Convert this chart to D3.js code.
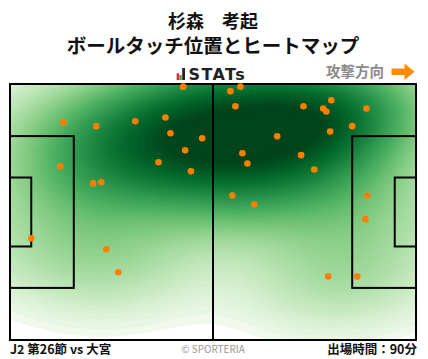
<!DOCTYPE html>
<html><head><meta charset="utf-8">
<script src="https://cdn.jsdelivr.net/npm/d3@7"></script>
<style>
body{margin:0;background:#fff;}
</style>
</head><body>
<svg id="chart" width="428" height="359" style="font-family:'Noto Sans CJK JP','Noto Sans',sans-serif"></svg>
<script>
// ---- data (pitch metres, x = attacking direction, y from top touchline) ----
const touchX = [44.8,13.8,22.3,32.4,40.2,41.5,49.7,45.3,38.4,46.8,13.0,21.5,23.6,
                57.0,59.6,58.3,75.9,83.1,81.0,81.8,92.2,88.5,82.8,69.1,60.1,61.4,75.3,78.7,
                57.5,63.2,92.4,91.9,5.5,24.9,28.0,82.3,89.8];
const touchY = [0.7,10.2,11.2,9.9,8.9,13.1,14.4,17.6,20.8,23.2,21.9,26.4,26.1,
                1.9,0.7,5.9,5.9,4.3,6.5,7.3,6.5,11.2,12.6,13.9,18.4,21.1,18.9,22.7,
                29.6,32.0,29.6,35.9,41.0,43.9,50.0,51.1,51.1];
const titleLines = ["杉森　考起", "ボールタッチ位置とヒートマップ"];
const brandLabel = "STATs";
const directionLabel = "攻撃方向";
const matchLabel = "J2 第26節 vs 大宮";
const creditLabel = "© SPORTERIA";
const minutesLabel = "出場時間：90分";
const pitchLength = 105, pitchWidth = 68;

const svg = d3.select("#chart");
const x = d3.scaleLinear().domain([0, pitchLength]).range([10, 416]);
const y = d3.scaleLinear().domain([0, pitchWidth]).range([84, 340]);

// ---- titles ----
const title = svg.append("text").attr("text-anchor", "middle").attr("font-weight", "bold").attr("fill", "#111");
title.append("tspan").attr("x", 213).attr("y", 28).attr("font-size", 18).text(titleLines[0]);
title.append("tspan").attr("x", 213).attr("y", 53).attr("font-size", 19.5).text(titleLines[1]);

// brand logo
svg.append("rect").attr("x", 176.7).attr("y", 73.3).attr("width", 2.3).attr("height", 6.7).attr("fill", "#e8262b");
svg.append("rect").attr("x", 179.4).attr("y", 75).attr("width", 2.3).attr("height", 5).attr("fill", "#3aa844");
svg.append("rect").attr("x", 182.2).attr("y", 68).attr("width", 2.8).attr("height", 12).attr("fill", "#222");
svg.append("text").attr("x", 188.5).attr("y", 80).attr("font-size", 16).attr("font-weight", "bold")
  .style("font-family", "'DejaVu Sans'").attr("letter-spacing", 1.4).attr("fill", "#222").text(brandLabel);

// direction
svg.append("text").attr("x", 384).attr("y", 77).attr("text-anchor", "end").attr("font-size", 14.5)
  .attr("font-weight", "bold").attr("fill", "#8a8a8a").text(directionLabel);
svg.append("path").attr("d", "M391.5,68.5 H404.5 V63.5 L414.5,71.8 L404.5,80 V75 H391.5 Z").attr("fill", "#ff8a00");

// ---- KDE heatmap ----
const n = touchX.length;
const mx = d3.mean(touchX), my = d3.mean(touchY);
let sxx = 0, syy = 0, sxy = 0;
for (let i = 0; i < n; i++) {
  const dx = touchX[i] - mx, dy = touchY[i] - my;
  sxx += dx * dx; syy += dy * dy; sxy += dx * dy;
}
sxx /= (n - 1); syy /= (n - 1); sxy /= (n - 1);
const f = 0.65, f2 = f * f;
const cxx = sxx * f2, cyy = syy * f2 * 1.1, cxy = sxy * f2;
const det = cxx * cyy - cxy * cxy;
const ixx = cyy / det, iyy = cxx / det, ixy = -cxy / det;

const step = 0.5;
const nx = Math.round(pitchLength / step) + 1, ny = Math.round(pitchWidth / step) + 1;
const grid = new Float64Array(nx * ny);
for (let j = 0; j < ny; j++) {
  const gy = j * step;
  for (let i = 0; i < nx; i++) {
    const gx = i * step;
    let s = 0;
    for (let k = 0; k < n; k++) {
      const dx = gx - touchX[k], dy = gy - touchY[k];
      s += Math.exp(-0.5 * (dx * dx * ixx + 2 * dx * dy * ixy + dy * dy * iyy));
    }
    grid[j * nx + i] = s;
  }
}
const gmax = d3.max(grid);
const levels = 90, lowFrac = 0.025;
const thresholds = d3.range(levels).map(k => gmax * (lowFrac + (1 - lowFrac) * k / levels));
const color = t => d3.interpolateGreens(0.05 + 0.95 * Math.min(1, 1.08 * Math.pow(t, 0.68)));
const contours = d3.contours().size([nx, ny]).thresholds(thresholds)(grid);
const proj = d3.geoTransform({ point(px, py) {
  this.stream.point(x((px - 0.5) * step), y((py - 0.5) * step));
}});
const gpath = d3.geoPath(proj);

svg.append("clipPath").attr("id", "pitchClip").append("rect")
  .attr("x", x(0)).attr("y", y(0)).attr("width", x(pitchLength) - x(0)).attr("height", y(pitchWidth) - y(0));
svg.append("g").attr("clip-path", "url(#pitchClip)")
  .selectAll("path").data(contours).join("path")
  .attr("d", gpath)
  .attr("fill", (d, i) => color(i / (levels - 1)))
  .attr("stroke", (d, i) => color(i / (levels - 1))).attr("stroke-width", 0.3);

// ---- pitch lines ----
const lines = svg.append("g").attr("fill", "none").attr("stroke", "#000").attr("stroke-width", 2);
const boxW = 40.32, boxD = 16.5, sixW = 18.32, sixD = 5.5;
const rect = (x0, y0, x1, y1) => lines.append("rect").attr("x", x(x0)).attr("y", y(y0))
  .attr("width", x(x1) - x(x0)).attr("height", y(y1) - y(y0));
rect(0, 0, pitchLength, pitchWidth);
lines.append("line").attr("x1", x(pitchLength / 2)).attr("x2", x(pitchLength / 2)).attr("y1", y(0)).attr("y2", y(pitchWidth));
rect(0, (pitchWidth - boxW) / 2, boxD, (pitchWidth + boxW) / 2);
rect(0, (pitchWidth - sixW) / 2, sixD, (pitchWidth + sixW) / 2);
rect(pitchLength - boxD, (pitchWidth - boxW) / 2, pitchLength, (pitchWidth + boxW) / 2);
rect(pitchLength - sixD, (pitchWidth - sixW) / 2, pitchLength, (pitchWidth + sixW) / 2);

// ---- touches ----
svg.append("g").selectAll("circle").data(touchX.map((v, i) => [v, touchY[i]])).join("circle")
  .attr("cx", d => x(d[0])).attr("cy", d => y(d[1])).attr("r", 3.3).attr("fill", "#ff8000");

// ---- footer ----
svg.append("text").attr("x", 10).attr("y", 354).attr("font-size", 12.5).attr("font-weight", "bold")
  .attr("fill", "#111").text(matchLabel);
svg.append("text").attr("x", 213).attr("y", 353).attr("text-anchor", "middle").attr("font-size", 10)
  .attr("fill", "#999").text(creditLabel);
svg.append("text").attr("x", 417).attr("y", 354).attr("text-anchor", "end").attr("font-size", 12.5)
  .attr("font-weight", "bold").attr("fill", "#111").text(minutesLabel);
</script>
</body></html>
